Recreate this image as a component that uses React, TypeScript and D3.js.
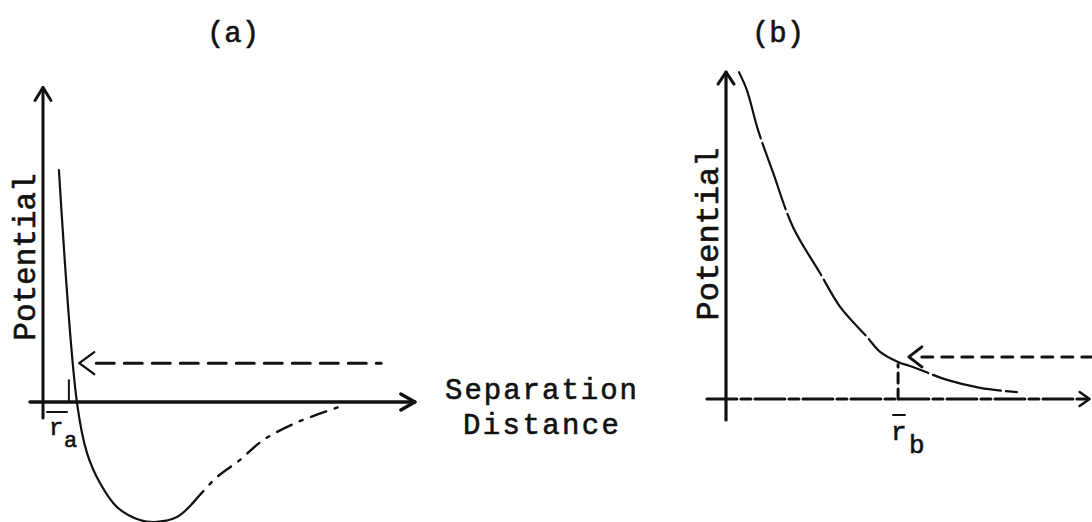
import React from "react";
import * as d3 from "d3";

// Panel (a): interatomic potential with a well (separation, potential), arbitrary units
const wellSep = [4.3, 9.2, 11.9, 15.4, 20.0, 26.2, 30.8, 36.2, 40.5, 47.0, 53.2, 59.5, 68.9, 81.6];
const wellPot = [62.7, -0.3, -13.8, -21.9, -28.4, -31.9, -32.4, -31.1, -27.3, -20.3, -15.7, -10.3, -5.4, -0.8];
const wellSolidCount = 9; // first points drawn solid, rest dash-dot

// Panel (b): purely repulsive potential
const repSep = [3.6, 5.8, 8.9, 13.1, 18.6, 26.1, 31.7, 39.2, 42.8, 47.8, 51.9, 61.4, 70.6, 80.8];
const repPot = [90.8, 85.8, 74.7, 62.8, 47.8, 35.0, 25.6, 17.2, 13.1, 10.3, 8.9, 5.3, 3.1, 1.9];

// Mean separations and the energy levels marked by the dashed arrows
const rA = 7.0;
const energyA = 10.5;
const rB = 47.8;
const energyB = 11.7;

const panelTitles = ["(a)", "(b)"];
const yLabel = "Potential";
const xLabelLines = ["Separation", "Distance"];

const INK = "#111";
const FONT = "'Liberation Mono', 'Courier New', monospace";

export default function App() {
  // scales for panel (a)
  const xa = d3.scaleLinear().domain([0, 100]).range([43, 413]);
  const ya = d3.scaleLinear().domain([0, 100]).range([402, 32]);
  // scales for panel (b)
  const xb = d3.scaleLinear().domain([0, 100]).range([726, 1086]);
  const yb = d3.scaleLinear().domain([0, 100]).range([399, 39]);

  const lineA = d3
    .line<[number, number]>()
    .x((d) => xa(d[0]))
    .y((d) => ya(d[1]))
    .curve(d3.curveCatmullRom.alpha(0.5));
  const lineB = d3
    .line<[number, number]>()
    .x((d) => xb(d[0]))
    .y((d) => yb(d[1]))
    .curve(d3.curveCatmullRom.alpha(0.5));

  const wellPts: [number, number][] = wellSep.map((s, i) => [s, wellPot[i]]);
  const wellSolid = wellPts.slice(0, wellSolidCount);
  const wellDashed = wellPts.slice(wellSolidCount - 1);
  const repPts: [number, number][] = repSep.map((s, i) => [s, repPot[i]]);

  const chevron = (tx: number, ty: number, dir: "up" | "right" | "left", size: number, spread: number) => {
    if (dir === "up") return `M${tx - spread},${ty + size} L${tx},${ty} L${tx + spread},${ty + size}`;
    if (dir === "right") return `M${tx - size},${ty - spread} L${tx},${ty} L${tx - size},${ty + spread}`;
    return `M${tx + size},${ty - spread} L${tx},${ty} L${tx + size},${ty + spread}`;
  };

  const textStyle = { stroke: INK, strokeWidth: 0.6 };

  return (
    <div style={{ position: "absolute", left: 0, top: 0 }}>
      <svg width={1092} height={522} viewBox="0 0 1092 522" style={{ display: "block", background: "#fff" }}>
        {/* titles */}
        <text x={233} y={42} textAnchor="middle" fontFamily={FONT} fontSize={29} fill={INK} style={textStyle}>
          {panelTitles[0]}
        </text>
        <text x={778} y={42} textAnchor="middle" fontFamily={FONT} fontSize={29} fill={INK} style={textStyle}>
          {panelTitles[1]}
        </text>

        {/* ---------- panel (a) ---------- */}
        <g stroke={INK} fill="none" strokeLinecap="round" strokeLinejoin="round">
          {/* y axis */}
          <line x1={xa(0)} y1={ya(-4.3)} x2={xa(0)} y2={ya(85)} strokeWidth={3} />
          <path d={chevron(xa(0), ya(85), "up", 13, 8)} strokeWidth={3} />
          {/* x axis */}
          <line x1={xa(-3.5)} y1={ya(0)} x2={xa(100.5)} y2={ya(0)} strokeWidth={3.5} />
          <path d={chevron(xa(100.5), ya(0), "right", 14, 8)} strokeWidth={3.5} />
          {/* r_a tick */}
          <line x1={xa(rA)} y1={ya(0)} x2={xa(rA)} y2={ya(5.9)} strokeWidth={2} />
          {/* potential well */}
          <path d={lineA(wellSolid) ?? ""} strokeWidth={2.2} />
          <path d={lineA(wellDashed) ?? ""} strokeWidth={2.4} strokeDasharray="16,9,3,9" />
          {/* energy level arrow */}
          <line
            x1={xa(wellSep[1] + 5.2)}
            y1={ya(energyA)}
            x2={xa(91.4)}
            y2={ya(energyA)}
            strokeWidth={3}
            strokeDasharray="18,10"
          />
          <path d={chevron(xa(wellSep[1] + 0.6), ya(energyA), "left", 15, 11)} strokeWidth={2.4} />
          {/* overbar of r_a */}
          <line x1={47} y1={412} x2={67} y2={412} strokeWidth={2} />
        </g>
        <text fontFamily={FONT} fill={INK} style={textStyle}>
          <tspan x={49} y={435} fontSize={24}>r</tspan>
          <tspan x={64} y={447} fontSize={22}>a</tspan>
        </text>
        <text
          transform="translate(35,257) rotate(-90)"
          textAnchor="middle"
          fontFamily={FONT}
          fontSize={31}
          fill={INK}
          style={textStyle}
        >
          {yLabel}
        </text>
        <text
          x={445}
          y={399}
          fontFamily={FONT}
          fontSize={29}
          fill={INK}
          style={textStyle}
          textLength={192}
          lengthAdjust="spacing"
        >
          {xLabelLines[0]}
        </text>
        <text
          x={463}
          y={434}
          fontFamily={FONT}
          fontSize={29}
          fill={INK}
          style={textStyle}
          textLength={156}
          lengthAdjust="spacing"
        >
          {xLabelLines[1]}
        </text>

        {/* ---------- panel (b) ---------- */}
        <g stroke={INK} fill="none" strokeLinecap="round" strokeLinejoin="round">
          {/* y axis */}
          <line x1={xb(0)} y1={yb(-5.8)} x2={xb(0)} y2={yb(90.8)} strokeWidth={3.2} />
          <path d={chevron(xb(0), yb(90.8), "up", 12, 8)} strokeWidth={3} />
          {/* x axis */}
          <line
            x1={xb(-5.3)}
            y1={yb(0)}
            x2={xb(101)}
            y2={yb(0)}
            strokeWidth={3}
            strokeDasharray="30,4,10,4"
          />
          <path d={chevron(xb(101), yb(0), "right", 10, 7)} strokeWidth={2.5} />
          {/* repulsive potential */}
          <path d={lineB(repPts) ?? ""} strokeWidth={2.2} strokeDasharray="70,5" />
          {/* r_b drop line */}
          <line x1={xb(rB)} y1={yb(0)} x2={xb(rB)} y2={yb(9.6)} strokeWidth={3} strokeDasharray="10,6" />
          {/* energy level arrow */}
          <line
            x1={xb(54.4)}
            y1={yb(energyB)}
            x2={xb(102)}
            y2={yb(energyB)}
            strokeWidth={3}
            strokeDasharray="11,9"
          />
          <path d={chevron(xb(50.8), yb(energyB), "left", 13, 10)} strokeWidth={3} />
          {/* overbar of r_b */}
          <line x1={893} y1={415} x2={905} y2={415} strokeWidth={2} />
        </g>
        <text fontFamily={FONT} fill={INK} style={textStyle}>
          <tspan x={891} y={440} fontSize={26}>r</tspan>
          <tspan x={909} y={453} fontSize={26}>b</tspan>
        </text>
        <text
          transform="translate(718,234) rotate(-90)"
          textAnchor="middle"
          fontFamily={FONT}
          fontSize={32}
          fill={INK}
          style={textStyle}
        >
          {yLabel}
        </text>
      </svg>
    </div>
  );
}
